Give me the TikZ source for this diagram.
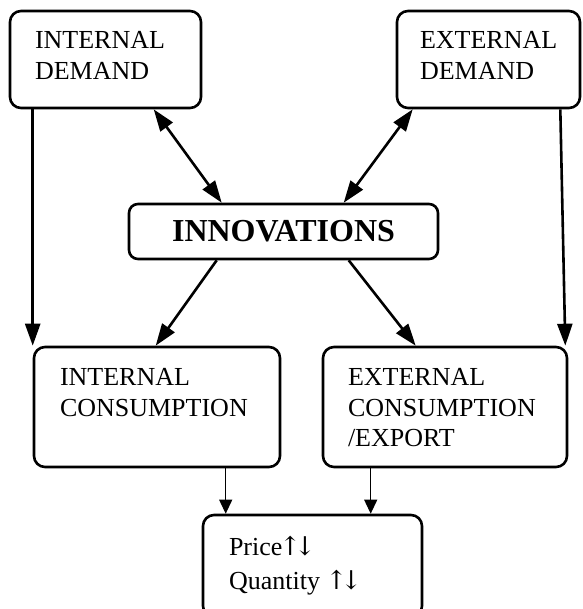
\documentclass[tikz,border=0pt]{standalone}
\usepackage{fontspec}
\setmainfont{Liberation Serif}
\newfontfamily\arrowfont{DejaVu Serif}
\newcommand\updown{{\arrowfont\kern-3pt↑\kern-7pt↓}}
\usetikzlibrary{arrows.meta}
\hyphenpenalty=10000

\begin{document}
\begin{tikzpicture}[x=1pt, y=1pt, >={Triangle[length=22pt,width=15pt]},
  every node/.style={font=\fontsize{26}{31}\selectfont},
  box/.style={draw, line width=2.6pt, rounded corners=11pt, align=left, inner ysep=0pt, anchor=text},
  link/.style={line width=2.6pt}]
\useasboundingbox (0,0) rectangle (582,-609);

\node (indem) [box, inner xsep=25pt, text width=141pt, text height=38pt, text depth=59pt] at (35,-49) {INTERNAL\\DEMAND};
\node (exdem) [box, inner xsep=23pt, text width=137pt, text height=38pt, text depth=59pt] at (420,-49) {EXTERNAL\\DEMAND};
\node (innov) [draw, line width=2.6pt, rounded corners=9pt, minimum width=309pt, minimum height=55pt, font=\fontsize{32}{36}\selectfont\bfseries] at (283.5,-231.5) {INNOVATIONS};
\node (incons) [box, inner xsep=26pt, text width=194pt, text height=38pt, text depth=82pt] at (60,-385) {INTERNAL\\CONSUMPTION};
\node (excons) [box, inner xsep=25pt, text width=194pt, text height=38pt, text depth=82pt] at (348,-385) {EXTERNAL\\CONSUMPTION\\[-1pt]/EXPORT};
\node (price) [box, inner xsep=26pt, text width=167pt, text height=40pt, text depth=62pt] at (229,-555) {Price\updown\\[3pt]Quantity \updown};

% demand to consumption
\draw[->, link] (incons.north west |- indem.south) -- (incons.north west);
\draw[->, link] ([xshift=-21pt]exdem.south east) -- ([xshift=-3pt]excons.north east);

% demand and innovations
\draw[<->, link] ([xshift=145pt]indem.south west) -- ([xshift=94pt]innov.north west);
\draw[<->, link] ([xshift=17pt]exdem.south west) -- ([xshift=216pt]innov.north west);

% innovations to consumption
\draw[->, link] ([xshift=89pt]innov.south west) -- ([xshift=123pt]incons.north west);
\draw[->, link] ([xshift=221pt]innov.south west) -- ([xshift=94pt]excons.north west);

% consumption to price
\draw[-{Triangle[length=14pt,width=13pt]}, line width=1.2pt] ([xshift=24pt]price.north west |- incons.south) -- ([xshift=24pt]price.north west);
\draw[-{Triangle[length=14pt,width=13pt]}, line width=1.2pt] ([xshift=169pt]price.north west |- excons.south) -- ([xshift=169pt]price.north west);
\end{tikzpicture}
\end{document}
